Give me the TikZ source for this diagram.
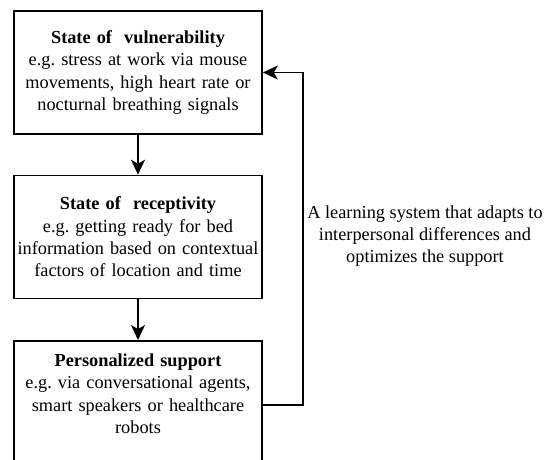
\documentclass[tikz,border=0pt]{standalone}
\usepackage{fontspec}
\setmainfont{Liberation Serif}
\frenchspacing
\usetikzlibrary{arrows.meta}
\tikzset{
  box/.style={draw, line width=1.6pt, minimum width=248pt, minimum height=123pt,
    text width=244pt, inner sep=2pt, align=center,
    font=\fontsize{18.3}{22.3}\selectfont},
  flow/.style={line width=1.4pt, -{Stealth[length=15pt,width=14pt,inset=4pt]}}
}
\begin{document}
\begin{tikzpicture}[x=1pt,y=-1pt]
      \clip (0,0) rectangle (549,459);
      \draw
        (138,72.5) node[box] (vuln){\textbf{State of\ \ vulnerability}\\e.g. stress at work via mouse\\movements, high heart rate or\\nocturnal breathing signals}
        (138,237) node[box] (recep){\textbf{State of\ \ receptivity}\\e.g. getting ready for bed\\information based on contextual\\factors of location and time}
        (138,340) node[box, anchor=north, minimum height=128pt] (support){\textbf{Personalized support}\\e.g. via conversational agents,\\smart speakers or healthcare\\robots\\\mbox{}}
        (425,236) node[align=center, font=\fontsize{18.3}{22.3}\selectfont] (learn){A learning system that adapts to\\interpersonal differences and\\optimizes the support};
      \begin{scope}[flow]
        \draw (vuln) to (recep);
        \draw (recep) to (support);
        \draw (support.east) -- ++(40,0) |- (vuln.east);
      \end{scope}
    \end{tikzpicture}
\end{document}
